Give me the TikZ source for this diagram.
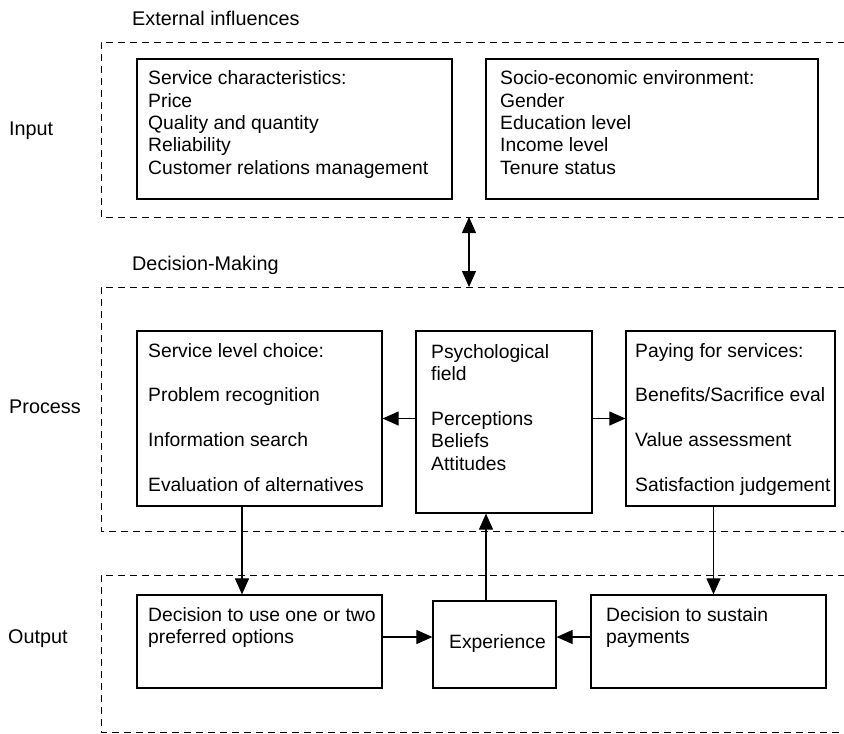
\documentclass[tikz,border=0pt]{standalone}
\usepackage{fontspec}
\setmainfont{Liberation Sans}
\usetikzlibrary{arrows.meta}
\begin{document}
\begin{tikzpicture}[x=1pt,y=-1pt,
  box/.style={draw, line width=1.2pt, inner sep=0pt, rectangle},
  txt/.style={anchor=north west, inner sep=0pt, align=left, font=\fontsize{19.3}{22.4}\selectfont},
  lbl/.style={anchor=base west, inner sep=0pt, font=\fontsize{19.8}{22.4}\selectfont},
  frame/.style={dash pattern=on 7pt off 5pt, line width=1pt},
  arr/.style={line width=1.1pt, -{Triangle[length=16pt,width=14pt]}},
  darr/.style={line width=1.1pt, {Triangle[length=16pt,width=14pt]}-{Triangle[length=16pt,width=14pt]}}]
\useasboundingbox (0,0) rectangle (844,734);
% frames
\draw[frame] (845,42) -- (101,42) -- (101,217) -- (845,217);
\draw[frame] (845,287) -- (101,287) -- (101,531) -- (845,531);
\draw[frame] (845,575) -- (101,575) -- (101,732) -- (845,732);
% labels
\node[lbl] (lext) at (132,25) {External influences};
\node[lbl] (ldm) at (132,270) {Decision-Making};
\node[lbl] (lin) at (9,135) {Input};
\node[lbl] (lpr) at (9,413) {Process};
\node[lbl] (lout) at (8,643) {Output};
% boxes
\node[box, minimum width=315pt, minimum height=140pt] (sc) at (294.5,129) {};
\node[box, minimum width=332pt, minimum height=140pt] (se) at (652,129) {};
\node[box, minimum width=245pt, minimum height=175pt] (slc) at (259.5,418.5) {};
\node[box, minimum width=176pt, minimum height=182pt] (psy) at (504,422) {};
\node[box, minimum width=209pt, minimum height=175pt] (pay) at (730.5,418.5) {};
\node[box, minimum width=245pt, minimum height=93pt] (dec) at (259.5,641.5) {};
\node[box, minimum width=123pt, minimum height=87pt] (exp) at (494.5,644.5) {};
\node[box, minimum width=235pt, minimum height=93pt] (sus) at (708.5,641.5) {};
% texts
\node[txt] (sctx) at (148,68.8) {\strut Service characteristics:\\\strut Price\\\strut Quality and quantity\\\strut Reliability\\\strut Customer relations management};
\node[txt] (setx) at (500,68.8) {\strut Socio-economic environment:\\\strut Gender\\\strut Education level\\\strut Income level\\\strut Tenure status};
\node[txt] (slctx) at (148,341.3) {\strut Service level choice:\\\strut\\\strut Problem recognition\\\strut\\\strut Information search\\\strut\\\strut Evaluation of alternatives};
\node[txt] (psytx) at (431,342.3) {\strut Psychological\\\strut field\\\strut\\\strut Perceptions\\\strut Beliefs\\\strut Attitudes};
\node[txt] (paytx) at (635,341.3) {\strut Paying for services:\\\strut\\\strut Benefits/Sacrifice eval\\\strut\\\strut Value assessment\\\strut\\\strut Satisfaction judgement};
\node[txt] (dectx) at (148,605.3) {\strut Decision to use one or two\\\strut preferred options};
\node[txt] (sustx) at (606,605.3) {\strut Decision to sustain\\\strut payments};
\node[lbl, font=\fontsize{19.3}{22.4}\selectfont] (exptx) at (449,648) {Experience};
% connectors
\coordinate (inB) at (469,217);
\coordinate (prT) at (469,287);
\draw[darr] (inB) -- (prT);
\draw[arr] (psy.west |- slc.east) -- (slc.east);
\draw[arr] (psy.east |- pay.west) -- (pay.west);
\draw[arr] ([xshift=-17.5pt]slc.south) -- ([xshift=-17.5pt]slc.south |- dec.north);
\draw[arr] ([xshift=-17pt]pay.south) -- ([xshift=-17pt]pay.south |- sus.north);
\draw[arr] ([xshift=-8.5pt]exp.north) -- ([xshift=-8.5pt]exp.north |- psy.south);
\draw[arr] ([yshift=4.5pt]dec.east) -- ([yshift=4.5pt]dec.east -| exp.west);
\draw[arr] ([yshift=4.5pt]sus.west) -- ([yshift=4.5pt]sus.west -| exp.east);
\end{tikzpicture}
\end{document}
